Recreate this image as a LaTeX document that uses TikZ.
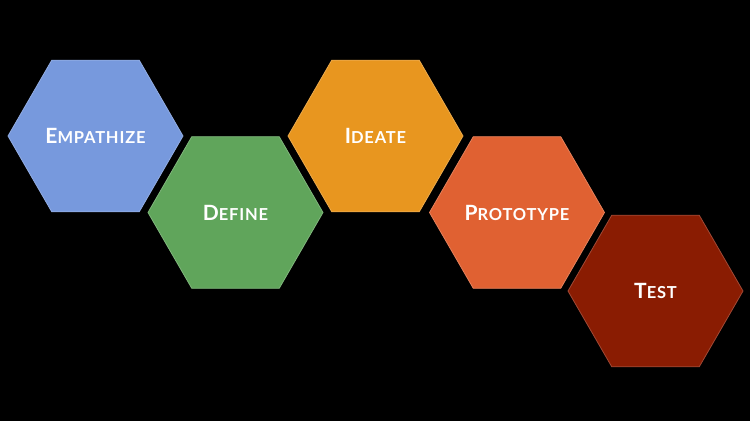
\documentclass[tikz,border=0pt]{standalone}
\usepackage{fontspec}
\usetikzlibrary{shapes.geometric}
\newfontfamily\labfont{Lato}[LetterSpace=5]
\definecolor{cEmp}{HTML}{7799DD}
\definecolor{cDef}{HTML}{60A55B}
\definecolor{cIde}{HTML}{E8961F}
\definecolor{cPro}{HTML}{E06132}
\definecolor{cTes}{HTML}{8A1C02}
\newcommand\hexlab[2]{{\labfont\bfseries\fontsize{21}{21}\selectfont #1\fontsize{16.5}{16.5}\selectfont #2}}
\tikzset{
  hexa/.style={regular polygon, regular polygon sides=6, minimum size=175pt,
    inner sep=0pt, outer sep=0pt, line width=0.8pt, text=white},
}
\begin{document}
\begin{tikzpicture}[x=1pt,y=-1pt]
\fill[black] (0,0) rectangle (750,421);
\useasboundingbox (0,0) rectangle (750,421);
\node[hexa, fill=cEmp, draw=cEmp!80!white] (emp) at (95.5,136) {\hexlab{E}{MPATHIZE}};
\node[hexa, fill=cDef, draw=cDef!80!white] (def) at (235.5,212.5) {\hexlab{D}{EFINE}};
\node[hexa, fill=cIde, draw=cIde!80!white] (ide) at (375.5,136) {\hexlab{I}{DEATE}};
\node[hexa, fill=cPro, draw=cPro!80!white] (pro) at (517,212.5) {\hexlab{P}{ROTOTYPE}};
\node[hexa, fill=cTes, draw=cTes!80!white] (tes) at (655.5,291) {\hexlab{T}{EST}};
\end{tikzpicture}
\end{document}
